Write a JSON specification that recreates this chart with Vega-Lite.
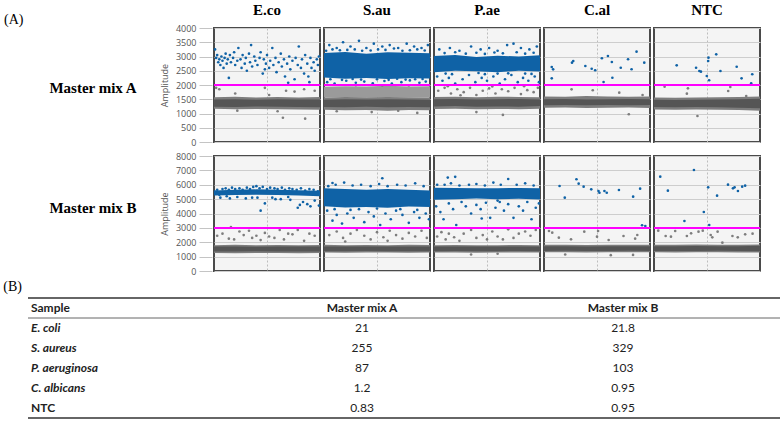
{
  "$schema": "https://vega.github.io/schema/vega-lite/v6.json",
  "background": "white",
  "padding": {"left": 3, "top": 3, "right": 2, "bottom": 4},
  "datasets": {
    "droplets": [
      {"m":"A","s":"E.co","c":"neg","x":0,"y":1170,"y2":1570},{"m":"A","s":"E.co","c":"neg","x":20,"y":1150,"y2":1590},{"m":"A","s":"E.co","c":"neg","x":40,"y":1160,"y2":1560},{"m":"A","s":"E.co","c":"neg","x":60,"y":1150,"y2":1580},{"m":"A","s":"E.co","c":"neg","x":80,"y":1140,"y2":1560},{"m":"A","s":"E.co","c":"neg","x":100,"y":1130,"y2":1575},
      {"m":"A","s":"E.co","c":"core","x":0,"y":1240,"y2":1490},{"m":"A","s":"E.co","c":"core","x":20,"y":1230,"y2":1500},{"m":"A","s":"E.co","c":"core","x":40,"y":1250,"y2":1480},{"m":"A","s":"E.co","c":"core","x":60,"y":1240,"y2":1500},{"m":"A","s":"E.co","c":"core","x":80,"y":1230,"y2":1490},{"m":"A","s":"E.co","c":"core","x":100,"y":1220,"y2":1490},
      {"m":"A","s":"S.au","c":"neg","x":0,"y":1130,"y2":1560},{"m":"A","s":"S.au","c":"neg","x":20,"y":1110,"y2":1580},{"m":"A","s":"S.au","c":"neg","x":40,"y":1120,"y2":1570},{"m":"A","s":"S.au","c":"neg","x":60,"y":1100,"y2":1580},{"m":"A","s":"S.au","c":"neg","x":80,"y":1120,"y2":1570},{"m":"A","s":"S.au","c":"neg","x":100,"y":1110,"y2":1560},
      {"m":"A","s":"S.au","c":"core","x":0,"y":1230,"y2":1480},{"m":"A","s":"S.au","c":"core","x":20,"y":1220,"y2":1500},{"m":"A","s":"S.au","c":"core","x":40,"y":1240,"y2":1490},{"m":"A","s":"S.au","c":"core","x":60,"y":1220,"y2":1500},{"m":"A","s":"S.au","c":"core","x":80,"y":1230,"y2":1490},{"m":"A","s":"S.au","c":"core","x":100,"y":1220,"y2":1480},
      {"m":"A","s":"S.au","c":"rain","x":0,"y":1560,"y2":1940},{"m":"A","s":"S.au","c":"rain","x":20,"y":1580,"y2":1960},{"m":"A","s":"S.au","c":"rain","x":40,"y":1570,"y2":1950},{"m":"A","s":"S.au","c":"rain","x":60,"y":1580,"y2":1970},{"m":"A","s":"S.au","c":"rain","x":80,"y":1570,"y2":1950},{"m":"A","s":"S.au","c":"rain","x":100,"y":1560,"y2":1960},
      {"m":"A","s":"S.au","c":"pos","x":0,"y":2260,"y2":3120},{"m":"A","s":"S.au","c":"pos","x":20,"y":2220,"y2":3160},{"m":"A","s":"S.au","c":"pos","x":40,"y":2250,"y2":3100},{"m":"A","s":"S.au","c":"pos","x":60,"y":2210,"y2":3150},{"m":"A","s":"S.au","c":"pos","x":80,"y":2240,"y2":3130},{"m":"A","s":"S.au","c":"pos","x":100,"y":2230,"y2":3110},
      {"m":"A","s":"P.ae","c":"neg","x":0,"y":1160,"y2":1580},{"m":"A","s":"P.ae","c":"neg","x":20,"y":1170,"y2":1590},{"m":"A","s":"P.ae","c":"neg","x":40,"y":1150,"y2":1570},{"m":"A","s":"P.ae","c":"neg","x":60,"y":1160,"y2":1590},{"m":"A","s":"P.ae","c":"neg","x":80,"y":1150,"y2":1580},{"m":"A","s":"P.ae","c":"neg","x":100,"y":1170,"y2":1570},
      {"m":"A","s":"P.ae","c":"core","x":0,"y":1250,"y2":1500},{"m":"A","s":"P.ae","c":"core","x":20,"y":1260,"y2":1510},{"m":"A","s":"P.ae","c":"core","x":40,"y":1240,"y2":1490},{"m":"A","s":"P.ae","c":"core","x":60,"y":1250,"y2":1500},{"m":"A","s":"P.ae","c":"core","x":80,"y":1240,"y2":1510},{"m":"A","s":"P.ae","c":"core","x":100,"y":1260,"y2":1490},
      {"m":"A","s":"P.ae","c":"pos","x":0,"y":2450,"y2":3020},{"m":"A","s":"P.ae","c":"pos","x":20,"y":2500,"y2":3050},{"m":"A","s":"P.ae","c":"pos","x":40,"y":2480,"y2":2980},{"m":"A","s":"P.ae","c":"pos","x":60,"y":2450,"y2":3030},{"m":"A","s":"P.ae","c":"pos","x":80,"y":2500,"y2":3000},{"m":"A","s":"P.ae","c":"pos","x":100,"y":2470,"y2":3040},
      {"m":"A","s":"C.al","c":"neg","x":0,"y":1200,"y2":1600},{"m":"A","s":"C.al","c":"neg","x":20,"y":1210,"y2":1590},{"m":"A","s":"C.al","c":"neg","x":40,"y":1190,"y2":1610},{"m":"A","s":"C.al","c":"neg","x":60,"y":1200,"y2":1600},{"m":"A","s":"C.al","c":"neg","x":80,"y":1210,"y2":1590},{"m":"A","s":"C.al","c":"neg","x":100,"y":1190,"y2":1600},
      {"m":"A","s":"C.al","c":"core","x":0,"y":1290,"y2":1500},{"m":"A","s":"C.al","c":"core","x":20,"y":1300,"y2":1510},{"m":"A","s":"C.al","c":"core","x":40,"y":1290,"y2":1490},{"m":"A","s":"C.al","c":"core","x":60,"y":1300,"y2":1500},{"m":"A","s":"C.al","c":"core","x":80,"y":1290,"y2":1510},{"m":"A","s":"C.al","c":"core","x":100,"y":1300,"y2":1500},
      {"m":"A","s":"NTC","c":"neg","x":0,"y":1140,"y2":1560},{"m":"A","s":"NTC","c":"neg","x":20,"y":1130,"y2":1550},{"m":"A","s":"NTC","c":"neg","x":40,"y":1140,"y2":1560},{"m":"A","s":"NTC","c":"neg","x":60,"y":1130,"y2":1570},{"m":"A","s":"NTC","c":"neg","x":80,"y":1120,"y2":1580},{"m":"A","s":"NTC","c":"neg","x":100,"y":1100,"y2":1600},
      {"m":"A","s":"NTC","c":"core","x":0,"y":1230,"y2":1480},{"m":"A","s":"NTC","c":"core","x":20,"y":1220,"y2":1470},{"m":"A","s":"NTC","c":"core","x":40,"y":1230,"y2":1480},{"m":"A","s":"NTC","c":"core","x":60,"y":1220,"y2":1490},{"m":"A","s":"NTC","c":"core","x":80,"y":1200,"y2":1500},{"m":"A","s":"NTC","c":"core","x":100,"y":1180,"y2":1520},

      {"m":"B","s":"E.co","c":"neg","x":0,"y":1250,"y2":1800},{"m":"B","s":"E.co","c":"neg","x":20,"y":1240,"y2":1820},{"m":"B","s":"E.co","c":"neg","x":40,"y":1260,"y2":1790},{"m":"B","s":"E.co","c":"neg","x":60,"y":1250,"y2":1810},{"m":"B","s":"E.co","c":"neg","x":80,"y":1240,"y2":1800},{"m":"B","s":"E.co","c":"neg","x":100,"y":1260,"y2":1810},
      {"m":"B","s":"E.co","c":"core","x":0,"y":1360,"y2":1700},{"m":"B","s":"E.co","c":"core","x":20,"y":1350,"y2":1710},{"m":"B","s":"E.co","c":"core","x":40,"y":1370,"y2":1690},{"m":"B","s":"E.co","c":"core","x":60,"y":1360,"y2":1700},{"m":"B","s":"E.co","c":"core","x":80,"y":1350,"y2":1710},{"m":"B","s":"E.co","c":"core","x":100,"y":1360,"y2":1700},
      {"m":"B","s":"E.co","c":"pos","x":0,"y":5250,"y2":5600},{"m":"B","s":"E.co","c":"pos","x":20,"y":5280,"y2":5650},{"m":"B","s":"E.co","c":"pos","x":40,"y":5300,"y2":5680},{"m":"B","s":"E.co","c":"pos","x":60,"y":5280,"y2":5650},{"m":"B","s":"E.co","c":"pos","x":80,"y":5250,"y2":5620},{"m":"B","s":"E.co","c":"pos","x":100,"y":5200,"y2":5580},
      {"m":"B","s":"S.au","c":"neg","x":0,"y":1280,"y2":1820},{"m":"B","s":"S.au","c":"neg","x":20,"y":1270,"y2":1800},{"m":"B","s":"S.au","c":"neg","x":40,"y":1290,"y2":1810},{"m":"B","s":"S.au","c":"neg","x":60,"y":1280,"y2":1800},{"m":"B","s":"S.au","c":"neg","x":80,"y":1270,"y2":1820},{"m":"B","s":"S.au","c":"neg","x":100,"y":1280,"y2":1810},
      {"m":"B","s":"S.au","c":"core","x":0,"y":1380,"y2":1710},{"m":"B","s":"S.au","c":"core","x":20,"y":1370,"y2":1700},{"m":"B","s":"S.au","c":"core","x":40,"y":1390,"y2":1710},{"m":"B","s":"S.au","c":"core","x":60,"y":1380,"y2":1700},{"m":"B","s":"S.au","c":"core","x":80,"y":1370,"y2":1710},{"m":"B","s":"S.au","c":"core","x":100,"y":1380,"y2":1700},
      {"m":"B","s":"S.au","c":"pos","x":0,"y":4500,"y2":5750},{"m":"B","s":"S.au","c":"pos","x":20,"y":4420,"y2":5700},{"m":"B","s":"S.au","c":"pos","x":40,"y":4460,"y2":5660},{"m":"B","s":"S.au","c":"pos","x":60,"y":4400,"y2":5700},{"m":"B","s":"S.au","c":"pos","x":80,"y":4480,"y2":5650},{"m":"B","s":"S.au","c":"pos","x":100,"y":4450,"y2":5600},
      {"m":"B","s":"P.ae","c":"neg","x":0,"y":1280,"y2":1800},{"m":"B","s":"P.ae","c":"neg","x":20,"y":1290,"y2":1810},{"m":"B","s":"P.ae","c":"neg","x":40,"y":1270,"y2":1790},{"m":"B","s":"P.ae","c":"neg","x":60,"y":1280,"y2":1800},{"m":"B","s":"P.ae","c":"neg","x":80,"y":1290,"y2":1810},{"m":"B","s":"P.ae","c":"neg","x":100,"y":1280,"y2":1800},
      {"m":"B","s":"P.ae","c":"core","x":0,"y":1380,"y2":1700},{"m":"B","s":"P.ae","c":"core","x":20,"y":1390,"y2":1710},{"m":"B","s":"P.ae","c":"core","x":40,"y":1370,"y2":1700},{"m":"B","s":"P.ae","c":"core","x":60,"y":1380,"y2":1710},{"m":"B","s":"P.ae","c":"core","x":80,"y":1390,"y2":1700},{"m":"B","s":"P.ae","c":"core","x":100,"y":1380,"y2":1700},
      {"m":"B","s":"P.ae","c":"pos","x":0,"y":4950,"y2":5800},{"m":"B","s":"P.ae","c":"pos","x":20,"y":5000,"y2":5780},{"m":"B","s":"P.ae","c":"pos","x":40,"y":5050,"y2":5750},{"m":"B","s":"P.ae","c":"pos","x":60,"y":5000,"y2":5760},{"m":"B","s":"P.ae","c":"pos","x":80,"y":5020,"y2":5780},{"m":"B","s":"P.ae","c":"pos","x":100,"y":4980,"y2":5750},
      {"m":"B","s":"C.al","c":"neg","x":0,"y":1300,"y2":1820},{"m":"B","s":"C.al","c":"neg","x":20,"y":1310,"y2":1830},{"m":"B","s":"C.al","c":"neg","x":40,"y":1290,"y2":1810},{"m":"B","s":"C.al","c":"neg","x":60,"y":1300,"y2":1820},{"m":"B","s":"C.al","c":"neg","x":80,"y":1310,"y2":1830},{"m":"B","s":"C.al","c":"neg","x":100,"y":1300,"y2":1820},
      {"m":"B","s":"C.al","c":"core","x":0,"y":1400,"y2":1720},{"m":"B","s":"C.al","c":"core","x":20,"y":1410,"y2":1730},{"m":"B","s":"C.al","c":"core","x":40,"y":1390,"y2":1710},{"m":"B","s":"C.al","c":"core","x":60,"y":1400,"y2":1720},{"m":"B","s":"C.al","c":"core","x":80,"y":1410,"y2":1730},{"m":"B","s":"C.al","c":"core","x":100,"y":1400,"y2":1720},
      {"m":"B","s":"NTC","c":"neg","x":0,"y":1300,"y2":1830},{"m":"B","s":"NTC","c":"neg","x":20,"y":1290,"y2":1820},{"m":"B","s":"NTC","c":"neg","x":40,"y":1300,"y2":1840},{"m":"B","s":"NTC","c":"neg","x":60,"y":1310,"y2":1830},{"m":"B","s":"NTC","c":"neg","x":80,"y":1290,"y2":1820},{"m":"B","s":"NTC","c":"neg","x":100,"y":1280,"y2":1850},
      {"m":"B","s":"NTC","c":"core","x":0,"y":1400,"y2":1730},{"m":"B","s":"NTC","c":"core","x":20,"y":1390,"y2":1720},{"m":"B","s":"NTC","c":"core","x":40,"y":1400,"y2":1740},{"m":"B","s":"NTC","c":"core","x":60,"y":1410,"y2":1730},{"m":"B","s":"NTC","c":"core","x":80,"y":1390,"y2":1720},{"m":"B","s":"NTC","c":"core","x":100,"y":1380,"y2":1750},

      {"m":"A","s":"E.co","c":"thr","y":2000},{"m":"A","s":"S.au","c":"thr","y":2000},{"m":"A","s":"P.ae","c":"thr","y":2000},{"m":"A","s":"C.al","c":"thr","y":2000},{"m":"A","s":"NTC","c":"thr","y":2000},
      {"m":"B","s":"E.co","c":"thr","y":3000},{"m":"B","s":"S.au","c":"thr","y":3000},{"m":"B","s":"P.ae","c":"thr","y":3000},{"m":"B","s":"C.al","c":"thr","y":3000},{"m":"B","s":"NTC","c":"thr","y":3000},

      {"m":"A","s":"E.co","c":"pos","x":1,"y":3250},{"m":"A","s":"E.co","c":"pos","x":2,"y":2950},{"m":"A","s":"E.co","c":"pos","x":3,"y":3050},{"m":"A","s":"E.co","c":"pos","x":4,"y":2800},{"m":"A","s":"E.co","c":"pos","x":5,"y":2900},{"m":"A","s":"E.co","c":"pos","x":6,"y":2700},{"m":"A","s":"E.co","c":"pos","x":7,"y":3000},{"m":"A","s":"E.co","c":"pos","x":8,"y":2850},{"m":"A","s":"E.co","c":"pos","x":9,"y":2600},{"m":"A","s":"E.co","c":"pos","x":10,"y":2950},
      {"m":"A","s":"E.co","c":"pos","x":11,"y":3100},{"m":"A","s":"E.co","c":"pos","x":12,"y":2750},{"m":"A","s":"E.co","c":"pos","x":13,"y":2900},{"m":"A","s":"E.co","c":"pos","x":14,"y":2250},{"m":"A","s":"E.co","c":"pos","x":15,"y":3050},{"m":"A","s":"E.co","c":"pos","x":16,"y":2800},{"m":"A","s":"E.co","c":"pos","x":18,"y":2950},{"m":"A","s":"E.co","c":"pos","x":19,"y":3150},{"m":"A","s":"E.co","c":"pos","x":20,"y":2700},{"m":"A","s":"E.co","c":"pos","x":22,"y":2850},
      {"m":"A","s":"E.co","c":"pos","x":23,"y":3300},{"m":"A","s":"E.co","c":"pos","x":25,"y":2900},{"m":"A","s":"E.co","c":"pos","x":26,"y":2600},{"m":"A","s":"E.co","c":"pos","x":27,"y":3050},{"m":"A","s":"E.co","c":"pos","x":29,"y":2750},{"m":"A","s":"E.co","c":"pos","x":30,"y":2950},{"m":"A","s":"E.co","c":"pos","x":31,"y":2500},{"m":"A","s":"E.co","c":"pos","x":33,"y":3100},{"m":"A","s":"E.co","c":"pos","x":34,"y":2800},{"m":"A","s":"E.co","c":"pos","x":35,"y":3400},
      {"m":"A","s":"E.co","c":"pos","x":36,"y":2650},{"m":"A","s":"E.co","c":"pos","x":38,"y":3000},{"m":"A","s":"E.co","c":"pos","x":39,"y":2850},{"m":"A","s":"E.co","c":"pos","x":41,"y":2700},{"m":"A","s":"E.co","c":"pos","x":43,"y":2950},{"m":"A","s":"E.co","c":"pos","x":44,"y":3150},{"m":"A","s":"E.co","c":"pos","x":46,"y":2400},{"m":"A","s":"E.co","c":"pos","x":47,"y":2900},{"m":"A","s":"E.co","c":"pos","x":48,"y":2550},{"m":"A","s":"E.co","c":"pos","x":49,"y":2750},
      {"m":"A","s":"E.co","c":"pos","x":50,"y":3050},{"m":"A","s":"E.co","c":"pos","x":52,"y":2600},{"m":"A","s":"E.co","c":"pos","x":53,"y":2850},{"m":"A","s":"E.co","c":"pos","x":55,"y":3300},{"m":"A","s":"E.co","c":"pos","x":56,"y":2700},{"m":"A","s":"E.co","c":"pos","x":58,"y":2950},{"m":"A","s":"E.co","c":"pos","x":59,"y":2450},{"m":"A","s":"E.co","c":"pos","x":61,"y":2800},{"m":"A","s":"E.co","c":"pos","x":63,"y":3100},{"m":"A","s":"E.co","c":"pos","x":64,"y":2650},
      {"m":"A","s":"E.co","c":"pos","x":66,"y":2900},{"m":"A","s":"E.co","c":"pos","x":67,"y":2300},{"m":"A","s":"E.co","c":"pos","x":69,"y":2750},{"m":"A","s":"E.co","c":"pos","x":70,"y":2080},{"m":"A","s":"E.co","c":"pos","x":71,"y":3000},{"m":"A","s":"E.co","c":"pos","x":72,"y":2550},{"m":"A","s":"E.co","c":"pos","x":74,"y":2850},{"m":"A","s":"E.co","c":"pos","x":76,"y":2200},{"m":"A","s":"E.co","c":"pos","x":77,"y":2950},{"m":"A","s":"E.co","c":"pos","x":79,"y":2700},
      {"m":"A","s":"E.co","c":"pos","x":80,"y":3350},{"m":"A","s":"E.co","c":"pos","x":82,"y":2600},{"m":"A","s":"E.co","c":"pos","x":83,"y":2900},{"m":"A","s":"E.co","c":"pos","x":85,"y":2400},{"m":"A","s":"E.co","c":"pos","x":86,"y":3050},{"m":"A","s":"E.co","c":"pos","x":88,"y":2750},{"m":"A","s":"E.co","c":"pos","x":89,"y":2300},{"m":"A","s":"E.co","c":"pos","x":90,"y":2100},{"m":"A","s":"E.co","c":"pos","x":91,"y":2950},{"m":"A","s":"E.co","c":"pos","x":92,"y":2600},
      {"m":"A","s":"E.co","c":"pos","x":94,"y":2800},{"m":"A","s":"E.co","c":"pos","x":95,"y":2500},{"m":"A","s":"E.co","c":"pos","x":97,"y":2900},{"m":"A","s":"E.co","c":"pos","x":98,"y":2700},{"m":"A","s":"E.co","c":"pos","x":99,"y":3000},
      {"m":"A","s":"E.co","c":"neg","x":2,"y":1900},{"m":"A","s":"E.co","c":"neg","x":5,"y":1850},{"m":"A","s":"E.co","c":"neg","x":20,"y":1700},{"m":"A","s":"E.co","c":"neg","x":48,"y":1900},{"m":"A","s":"E.co","c":"neg","x":52,"y":1650},{"m":"A","s":"E.co","c":"neg","x":68,"y":1800},{"m":"A","s":"E.co","c":"neg","x":76,"y":1770},{"m":"A","s":"E.co","c":"neg","x":85,"y":1850},{"m":"A","s":"E.co","c":"neg","x":95,"y":1800},{"m":"A","s":"E.co","c":"neg","x":65,"y":850},{"m":"A","s":"E.co","c":"neg","x":86,"y":820},{"m":"A","s":"E.co","c":"neg","x":22,"y":1100},{"m":"A","s":"E.co","c":"neg","x":60,"y":1080},

      {"m":"A","s":"S.au","c":"pos","x":5,"y":3400},{"m":"A","s":"S.au","c":"pos","x":8,"y":3250},{"m":"A","s":"S.au","c":"pos","x":12,"y":3300},{"m":"A","s":"S.au","c":"pos","x":18,"y":3500},{"m":"A","s":"S.au","c":"pos","x":25,"y":3350},{"m":"A","s":"S.au","c":"pos","x":29,"y":3250},{"m":"A","s":"S.au","c":"pos","x":33,"y":3550},{"m":"A","s":"S.au","c":"pos","x":40,"y":3300},{"m":"A","s":"S.au","c":"pos","x":47,"y":3450},{"m":"A","s":"S.au","c":"pos","x":51,"y":3250},
      {"m":"A","s":"S.au","c":"pos","x":55,"y":3350},{"m":"A","s":"S.au","c":"pos","x":62,"y":3400},{"m":"A","s":"S.au","c":"pos","x":66,"y":3280},{"m":"A","s":"S.au","c":"pos","x":70,"y":3300},{"m":"A","s":"S.au","c":"pos","x":78,"y":3450},{"m":"A","s":"S.au","c":"pos","x":85,"y":3350},{"m":"A","s":"S.au","c":"pos","x":88,"y":3250},{"m":"A","s":"S.au","c":"pos","x":92,"y":3300},{"m":"A","s":"S.au","c":"pos","x":98,"y":3400},{"m":"A","s":"S.au","c":"pos","x":2,"y":3200},
      {"m":"A","s":"S.au","c":"pos","x":15,"y":3220},{"m":"A","s":"S.au","c":"pos","x":22,"y":3230},{"m":"A","s":"S.au","c":"pos","x":36,"y":3200},{"m":"A","s":"S.au","c":"pos","x":44,"y":3210},{"m":"A","s":"S.au","c":"pos","x":58,"y":3230},{"m":"A","s":"S.au","c":"pos","x":74,"y":3200},{"m":"A","s":"S.au","c":"pos","x":81,"y":3220},{"m":"A","s":"S.au","c":"pos","x":95,"y":3210},
      {"m":"A","s":"S.au","c":"pos","x":3,"y":2100},{"m":"A","s":"S.au","c":"pos","x":10,"y":2050},{"m":"A","s":"S.au","c":"pos","x":21,"y":2150},{"m":"A","s":"S.au","c":"pos","x":30,"y":2080},{"m":"A","s":"S.au","c":"pos","x":38,"y":2120},{"m":"A","s":"S.au","c":"pos","x":46,"y":2060},{"m":"A","s":"S.au","c":"pos","x":57,"y":2140},{"m":"A","s":"S.au","c":"pos","x":64,"y":2050},{"m":"A","s":"S.au","c":"pos","x":73,"y":2100},{"m":"A","s":"S.au","c":"pos","x":81,"y":2160},
      {"m":"A","s":"S.au","c":"pos","x":90,"y":2080},{"m":"A","s":"S.au","c":"pos","x":96,"y":2120},{"m":"A","s":"S.au","c":"pos","x":6,"y":2200},{"m":"A","s":"S.au","c":"pos","x":17,"y":2180},{"m":"A","s":"S.au","c":"pos","x":27,"y":2210},{"m":"A","s":"S.au","c":"pos","x":35,"y":2190},{"m":"A","s":"S.au","c":"pos","x":50,"y":2200},{"m":"A","s":"S.au","c":"pos","x":61,"y":2180},{"m":"A","s":"S.au","c":"pos","x":69,"y":2220},{"m":"A","s":"S.au","c":"pos","x":77,"y":2190},
      {"m":"A","s":"S.au","c":"pos","x":86,"y":2200},{"m":"A","s":"S.au","c":"pos","x":93,"y":2210},
      {"m":"A","s":"S.au","c":"neg","x":12,"y":1080},{"m":"A","s":"S.au","c":"neg","x":45,"y":1050},{"m":"A","s":"S.au","c":"neg","x":70,"y":1100},{"m":"A","s":"S.au","c":"neg","x":88,"y":1020},{"m":"A","s":"S.au","c":"neg","x":30,"y":1990},{"m":"A","s":"S.au","c":"neg","x":55,"y":1985},{"m":"A","s":"S.au","c":"neg","x":80,"y":1985},

      {"m":"A","s":"P.ae","c":"pos","x":5,"y":3250},{"m":"A","s":"P.ae","c":"pos","x":15,"y":3300},{"m":"A","s":"P.ae","c":"pos","x":24,"y":3200},{"m":"A","s":"P.ae","c":"pos","x":35,"y":3350},{"m":"A","s":"P.ae","c":"pos","x":44,"y":3250},{"m":"A","s":"P.ae","c":"pos","x":52,"y":3300},{"m":"A","s":"P.ae","c":"pos","x":60,"y":3200},{"m":"A","s":"P.ae","c":"pos","x":69,"y":3400},{"m":"A","s":"P.ae","c":"pos","x":75,"y":3450},{"m":"A","s":"P.ae","c":"pos","x":82,"y":3300},
      {"m":"A","s":"P.ae","c":"pos","x":90,"y":3250},{"m":"A","s":"P.ae","c":"pos","x":97,"y":3350},{"m":"A","s":"P.ae","c":"pos","x":10,"y":3120},{"m":"A","s":"P.ae","c":"pos","x":20,"y":3150},{"m":"A","s":"P.ae","c":"pos","x":30,"y":3100},{"m":"A","s":"P.ae","c":"pos","x":40,"y":3130},{"m":"A","s":"P.ae","c":"pos","x":48,"y":3090},{"m":"A","s":"P.ae","c":"pos","x":57,"y":3140},{"m":"A","s":"P.ae","c":"pos","x":65,"y":3110},{"m":"A","s":"P.ae","c":"pos","x":78,"y":3150},
      {"m":"A","s":"P.ae","c":"pos","x":86,"y":3100},{"m":"A","s":"P.ae","c":"pos","x":94,"y":3130},
      {"m":"A","s":"P.ae","c":"pos","x":3,"y":2300},{"m":"A","s":"P.ae","c":"pos","x":8,"y":2150},{"m":"A","s":"P.ae","c":"pos","x":11,"y":2400},{"m":"A","s":"P.ae","c":"pos","x":14,"y":2250},{"m":"A","s":"P.ae","c":"pos","x":20,"y":2050},{"m":"A","s":"P.ae","c":"pos","x":27,"y":2200},{"m":"A","s":"P.ae","c":"pos","x":33,"y":2350},{"m":"A","s":"P.ae","c":"pos","x":39,"y":2100},{"m":"A","s":"P.ae","c":"pos","x":45,"y":2250},{"m":"A","s":"P.ae","c":"pos","x":48,"y":2380},
      {"m":"A","s":"P.ae","c":"pos","x":50,"y":2150},{"m":"A","s":"P.ae","c":"pos","x":56,"y":2300},{"m":"A","s":"P.ae","c":"pos","x":62,"y":2050},{"m":"A","s":"P.ae","c":"pos","x":67,"y":2200},{"m":"A","s":"P.ae","c":"pos","x":73,"y":2350},{"m":"A","s":"P.ae","c":"pos","x":79,"y":2100},{"m":"A","s":"P.ae","c":"pos","x":84,"y":2250},{"m":"A","s":"P.ae","c":"pos","x":86,"y":2400},{"m":"A","s":"P.ae","c":"pos","x":89,"y":2150},{"m":"A","s":"P.ae","c":"pos","x":95,"y":2300},
      {"m":"A","s":"P.ae","c":"pos","x":99,"y":2100},{"m":"A","s":"P.ae","c":"pos","x":17,"y":2380},{"m":"A","s":"P.ae","c":"pos","x":42,"y":2420},{"m":"A","s":"P.ae","c":"pos","x":60,"y":2400},{"m":"A","s":"P.ae","c":"pos","x":70,"y":2410},{"m":"A","s":"P.ae","c":"pos","x":92,"y":2390},
      {"m":"A","s":"P.ae","c":"neg","x":4,"y":1800},{"m":"A","s":"P.ae","c":"neg","x":10,"y":1900},{"m":"A","s":"P.ae","c":"neg","x":16,"y":1700},{"m":"A","s":"P.ae","c":"neg","x":22,"y":1850},{"m":"A","s":"P.ae","c":"neg","x":28,"y":1750},{"m":"A","s":"P.ae","c":"neg","x":34,"y":1900},{"m":"A","s":"P.ae","c":"neg","x":40,"y":1650},{"m":"A","s":"P.ae","c":"neg","x":46,"y":1800},{"m":"A","s":"P.ae","c":"neg","x":52,"y":1880},{"m":"A","s":"P.ae","c":"neg","x":58,"y":1700},
      {"m":"A","s":"P.ae","c":"neg","x":64,"y":1850},{"m":"A","s":"P.ae","c":"neg","x":70,"y":1780},{"m":"A","s":"P.ae","c":"neg","x":76,"y":1900},{"m":"A","s":"P.ae","c":"neg","x":82,"y":1680},{"m":"A","s":"P.ae","c":"neg","x":88,"y":1820},{"m":"A","s":"P.ae","c":"neg","x":94,"y":1750},{"m":"A","s":"P.ae","c":"neg","x":98,"y":1900},{"m":"A","s":"P.ae","c":"neg","x":65,"y":950},{"m":"A","s":"P.ae","c":"neg","x":40,"y":1050},{"m":"A","s":"P.ae","c":"neg","x":13,"y":1960},
      {"m":"A","s":"P.ae","c":"neg","x":25,"y":1640},{"m":"A","s":"P.ae","c":"neg","x":55,"y":1950},{"m":"A","s":"P.ae","c":"neg","x":85,"y":1960},

      {"m":"A","s":"C.al","c":"pos","x":7.3,"y":2632},{"m":"A","s":"C.al","c":"pos","x":8.6,"y":2550},{"m":"A","s":"C.al","c":"pos","x":7.3,"y":2235},{"m":"A","s":"C.al","c":"pos","x":27.6,"y":2842},{"m":"A","s":"C.al","c":"pos","x":26.4,"y":2783},{"m":"A","s":"C.al","c":"pos","x":39,"y":2667},{"m":"A","s":"C.al","c":"pos","x":45,"y":2572},{"m":"A","s":"C.al","c":"pos","x":48.3,"y":2516},{"m":"A","s":"C.al","c":"pos","x":54.6,"y":2937},{"m":"A","s":"C.al","c":"pos","x":60.3,"y":3018},
      {"m":"A","s":"C.al","c":"pos","x":64,"y":2807},{"m":"A","s":"C.al","c":"pos","x":64.5,"y":2256},{"m":"A","s":"C.al","c":"pos","x":56.2,"y":2105},{"m":"A","s":"C.al","c":"pos","x":72.4,"y":2607},{"m":"A","s":"C.al","c":"pos","x":79.3,"y":2902},{"m":"A","s":"C.al","c":"pos","x":82.6,"y":2551},{"m":"A","s":"C.al","c":"pos","x":87.3,"y":3169},{"m":"A","s":"C.al","c":"pos","x":94.6,"y":2783},
      {"m":"A","s":"C.al","c":"neg","x":26,"y":1848},{"m":"A","s":"C.al","c":"neg","x":46,"y":1814},{"m":"A","s":"C.al","c":"neg","x":71,"y":1730},{"m":"A","s":"C.al","c":"neg","x":80,"y":972},{"m":"A","s":"C.al","c":"neg","x":93,"y":1649},

      {"m":"A","s":"NTC","c":"pos","x":21.4,"y":2691},{"m":"A","s":"NTC","c":"pos","x":39.7,"y":2607},{"m":"A","s":"NTC","c":"pos","x":42.8,"y":2491},{"m":"A","s":"NTC","c":"pos","x":44.3,"y":2467},{"m":"A","s":"NTC","c":"pos","x":51.4,"y":2958},{"m":"A","s":"NTC","c":"pos","x":51.1,"y":2842},{"m":"A","s":"NTC","c":"pos","x":58.7,"y":3077},{"m":"A","s":"NTC","c":"pos","x":49.8,"y":2316},{"m":"A","s":"NTC","c":"pos","x":52,"y":2165},{"m":"A","s":"NTC","c":"pos","x":62.7,"y":2491},
      {"m":"A","s":"NTC","c":"pos","x":78,"y":2642},{"m":"A","s":"NTC","c":"pos","x":82.6,"y":2235},{"m":"A","s":"NTC","c":"pos","x":92.7,"y":2376},{"m":"A","s":"NTC","c":"pos","x":91.7,"y":2060},
      {"m":"A","s":"NTC","c":"neg","x":10,"y":1940},{"m":"A","s":"NTC","c":"neg","x":32,"y":1883},{"m":"A","s":"NTC","c":"neg","x":31,"y":1695},{"m":"A","s":"NTC","c":"neg","x":72,"y":1930},{"m":"A","s":"NTC","c":"neg","x":70,"y":1790},{"m":"A","s":"NTC","c":"neg","x":87,"y":1614},{"m":"A","s":"NTC","c":"neg","x":41,"y":912},

      {"m":"B","s":"E.co","c":"pos","x":1,"y":5500},{"m":"B","s":"E.co","c":"pos","x":3,"y":5650},{"m":"B","s":"E.co","c":"pos","x":5,"y":5300},{"m":"B","s":"E.co","c":"pos","x":8,"y":5700},{"m":"B","s":"E.co","c":"pos","x":11,"y":5750},{"m":"B","s":"E.co","c":"pos","x":14,"y":5650},{"m":"B","s":"E.co","c":"pos","x":17,"y":5800},{"m":"B","s":"E.co","c":"pos","x":20,"y":5700},{"m":"B","s":"E.co","c":"pos","x":24,"y":5750},{"m":"B","s":"E.co","c":"pos","x":27,"y":5650},
      {"m":"B","s":"E.co","c":"pos","x":31,"y":5800},{"m":"B","s":"E.co","c":"pos","x":34,"y":5700},{"m":"B","s":"E.co","c":"pos","x":37,"y":5850},{"m":"B","s":"E.co","c":"pos","x":40,"y":5900},{"m":"B","s":"E.co","c":"pos","x":43,"y":5750},{"m":"B","s":"E.co","c":"pos","x":46,"y":5850},{"m":"B","s":"E.co","c":"pos","x":50,"y":5700},{"m":"B","s":"E.co","c":"pos","x":53,"y":5800},{"m":"B","s":"E.co","c":"pos","x":57,"y":5750},{"m":"B","s":"E.co","c":"pos","x":60,"y":5700},
      {"m":"B","s":"E.co","c":"pos","x":64,"y":5800},{"m":"B","s":"E.co","c":"pos","x":67,"y":5650},{"m":"B","s":"E.co","c":"pos","x":71,"y":5750},{"m":"B","s":"E.co","c":"pos","x":74,"y":5700},{"m":"B","s":"E.co","c":"pos","x":78,"y":5650},{"m":"B","s":"E.co","c":"pos","x":82,"y":5750},{"m":"B","s":"E.co","c":"pos","x":86,"y":5600},{"m":"B","s":"E.co","c":"pos","x":90,"y":5700},{"m":"B","s":"E.co","c":"pos","x":94,"y":5650},{"m":"B","s":"E.co","c":"pos","x":98,"y":5550},
      {"m":"B","s":"E.co","c":"pos","x":6,"y":5100},{"m":"B","s":"E.co","c":"pos","x":15,"y":5050},{"m":"B","s":"E.co","c":"pos","x":22,"y":5150},{"m":"B","s":"E.co","c":"pos","x":30,"y":5050},{"m":"B","s":"E.co","c":"pos","x":36,"y":5100},{"m":"B","s":"E.co","c":"pos","x":44,"y":4200},{"m":"B","s":"E.co","c":"pos","x":48,"y":4700},{"m":"B","s":"E.co","c":"pos","x":55,"y":5100},{"m":"B","s":"E.co","c":"pos","x":63,"y":5000},{"m":"B","s":"E.co","c":"pos","x":70,"y":5150},
      {"m":"B","s":"E.co","c":"pos","x":72,"y":4950},{"m":"B","s":"E.co","c":"pos","x":79,"y":4400},{"m":"B","s":"E.co","c":"pos","x":81,"y":4600},{"m":"B","s":"E.co","c":"pos","x":84,"y":4800},{"m":"B","s":"E.co","c":"pos","x":88,"y":4650},{"m":"B","s":"E.co","c":"pos","x":91,"y":4500},{"m":"B","s":"E.co","c":"pos","x":95,"y":4900},{"m":"B","s":"E.co","c":"pos","x":99,"y":4550},{"m":"B","s":"E.co","c":"pos","x":12,"y":5200},{"m":"B","s":"E.co","c":"pos","x":41,"y":5100},
      {"m":"B","s":"E.co","c":"pos","x":58,"y":5000},
      {"m":"B","s":"E.co","c":"neg","x":3,"y":2450},{"m":"B","s":"E.co","c":"neg","x":8,"y":2600},{"m":"B","s":"E.co","c":"neg","x":14,"y":2250},{"m":"B","s":"E.co","c":"neg","x":16,"y":3050},{"m":"B","s":"E.co","c":"neg","x":19,"y":2200},{"m":"B","s":"E.co","c":"neg","x":24,"y":2750},{"m":"B","s":"E.co","c":"neg","x":28,"y":2500},{"m":"B","s":"E.co","c":"neg","x":33,"y":2800},{"m":"B","s":"E.co","c":"neg","x":36,"y":2300},{"m":"B","s":"E.co","c":"neg","x":40,"y":2450},
      {"m":"B","s":"E.co","c":"neg","x":44,"y":2150},{"m":"B","s":"E.co","c":"neg","x":48,"y":2650},{"m":"B","s":"E.co","c":"neg","x":52,"y":2400},{"m":"B","s":"E.co","c":"neg","x":57,"y":2300},{"m":"B","s":"E.co","c":"neg","x":62,"y":2850},{"m":"B","s":"E.co","c":"neg","x":66,"y":2200},{"m":"B","s":"E.co","c":"neg","x":70,"y":2600},{"m":"B","s":"E.co","c":"neg","x":74,"y":2550},{"m":"B","s":"E.co","c":"neg","x":79,"y":2850},{"m":"B","s":"E.co","c":"neg","x":85,"y":2100},
      {"m":"B","s":"E.co","c":"neg","x":90,"y":2600},{"m":"B","s":"E.co","c":"neg","x":95,"y":2450},

      {"m":"B","s":"S.au","c":"pos","x":4,"y":5900},{"m":"B","s":"S.au","c":"pos","x":8,"y":6120},{"m":"B","s":"S.au","c":"pos","x":11,"y":6000},{"m":"B","s":"S.au","c":"pos","x":19,"y":6150},{"m":"B","s":"S.au","c":"pos","x":27,"y":5950},{"m":"B","s":"S.au","c":"pos","x":35,"y":6000},{"m":"B","s":"S.au","c":"pos","x":44,"y":5900},{"m":"B","s":"S.au","c":"pos","x":52,"y":6050},{"m":"B","s":"S.au","c":"pos","x":55,"y":6450},{"m":"B","s":"S.au","c":"pos","x":60,"y":5900},
      {"m":"B","s":"S.au","c":"pos","x":69,"y":6000},{"m":"B","s":"S.au","c":"pos","x":77,"y":5950},{"m":"B","s":"S.au","c":"pos","x":86,"y":6100},{"m":"B","s":"S.au","c":"pos","x":94,"y":5900},
      {"m":"B","s":"S.au","c":"pos","x":3,"y":4200},{"m":"B","s":"S.au","c":"pos","x":8,"y":3500},{"m":"B","s":"S.au","c":"pos","x":10,"y":4300},{"m":"B","s":"S.au","c":"pos","x":12,"y":3900},{"m":"B","s":"S.au","c":"pos","x":17,"y":3300},{"m":"B","s":"S.au","c":"pos","x":22,"y":4000},{"m":"B","s":"S.au","c":"pos","x":25,"y":4250},{"m":"B","s":"S.au","c":"pos","x":28,"y":3700},{"m":"B","s":"S.au","c":"pos","x":33,"y":4300},{"m":"B","s":"S.au","c":"pos","x":38,"y":3400},
      {"m":"B","s":"S.au","c":"pos","x":42,"y":4100},{"m":"B","s":"S.au","c":"pos","x":47,"y":3800},{"m":"B","s":"S.au","c":"pos","x":50,"y":4350},{"m":"B","s":"S.au","c":"pos","x":53,"y":3200},{"m":"B","s":"S.au","c":"pos","x":58,"y":4000},{"m":"B","s":"S.au","c":"pos","x":63,"y":3600},{"m":"B","s":"S.au","c":"pos","x":68,"y":4200},{"m":"B","s":"S.au","c":"pos","x":72,"y":4300},{"m":"B","s":"S.au","c":"pos","x":74,"y":3900},{"m":"B","s":"S.au","c":"pos","x":80,"y":3350},
      {"m":"B","s":"S.au","c":"pos","x":85,"y":4100},{"m":"B","s":"S.au","c":"pos","x":88,"y":4250},{"m":"B","s":"S.au","c":"pos","x":90,"y":3700},{"m":"B","s":"S.au","c":"pos","x":96,"y":4000},{"m":"B","s":"S.au","c":"pos","x":99,"y":3600},
      {"m":"B","s":"S.au","c":"neg","x":5,"y":2500},{"m":"B","s":"S.au","c":"neg","x":12,"y":2750},{"m":"B","s":"S.au","c":"neg","x":18,"y":2300},{"m":"B","s":"S.au","c":"neg","x":20,"y":2050},{"m":"B","s":"S.au","c":"neg","x":25,"y":2600},{"m":"B","s":"S.au","c":"neg","x":31,"y":2850},{"m":"B","s":"S.au","c":"neg","x":38,"y":2450},{"m":"B","s":"S.au","c":"neg","x":44,"y":2200},{"m":"B","s":"S.au","c":"neg","x":50,"y":2700},{"m":"B","s":"S.au","c":"neg","x":56,"y":2350},
      {"m":"B","s":"S.au","c":"neg","x":60,"y":2100},{"m":"B","s":"S.au","c":"neg","x":62,"y":2800},{"m":"B","s":"S.au","c":"neg","x":68,"y":2500},{"m":"B","s":"S.au","c":"neg","x":74,"y":2250},{"m":"B","s":"S.au","c":"neg","x":80,"y":2650},{"m":"B","s":"S.au","c":"neg","x":86,"y":2400},{"m":"B","s":"S.au","c":"neg","x":92,"y":2800},{"m":"B","s":"S.au","c":"neg","x":97,"y":2300},

      {"m":"B","s":"P.ae","c":"pos","x":3,"y":6000},{"m":"B","s":"P.ae","c":"pos","x":10,"y":6000},{"m":"B","s":"P.ae","c":"pos","x":13,"y":6500},{"m":"B","s":"P.ae","c":"pos","x":16,"y":6100},{"m":"B","s":"P.ae","c":"pos","x":20,"y":6550},{"m":"B","s":"P.ae","c":"pos","x":24,"y":5950},{"m":"B","s":"P.ae","c":"pos","x":33,"y":6000},{"m":"B","s":"P.ae","c":"pos","x":40,"y":6050},{"m":"B","s":"P.ae","c":"pos","x":48,"y":5950},{"m":"B","s":"P.ae","c":"pos","x":56,"y":6150},
      {"m":"B","s":"P.ae","c":"pos","x":63,"y":6000},{"m":"B","s":"P.ae","c":"pos","x":70,"y":6400},{"m":"B","s":"P.ae","c":"pos","x":78,"y":6000},{"m":"B","s":"P.ae","c":"pos","x":86,"y":6100},{"m":"B","s":"P.ae","c":"pos","x":94,"y":5950},
      {"m":"B","s":"P.ae","c":"pos","x":2,"y":4500},{"m":"B","s":"P.ae","c":"pos","x":6,"y":4100},{"m":"B","s":"P.ae","c":"pos","x":9,"y":3600},{"m":"B","s":"P.ae","c":"pos","x":14,"y":4700},{"m":"B","s":"P.ae","c":"pos","x":18,"y":4300},{"m":"B","s":"P.ae","c":"pos","x":21,"y":3200},{"m":"B","s":"P.ae","c":"pos","x":26,"y":4800},{"m":"B","s":"P.ae","c":"pos","x":30,"y":4500},{"m":"B","s":"P.ae","c":"pos","x":35,"y":4000},{"m":"B","s":"P.ae","c":"pos","x":40,"y":4600},
      {"m":"B","s":"P.ae","c":"pos","x":44,"y":4300},{"m":"B","s":"P.ae","c":"pos","x":45,"y":3650},{"m":"B","s":"P.ae","c":"pos","x":49,"y":4750},{"m":"B","s":"P.ae","c":"pos","x":53,"y":3700},{"m":"B","s":"P.ae","c":"pos","x":58,"y":4400},{"m":"B","s":"P.ae","c":"pos","x":60,"y":4900},{"m":"B","s":"P.ae","c":"pos","x":62,"y":4800},{"m":"B","s":"P.ae","c":"pos","x":66,"y":4200},{"m":"B","s":"P.ae","c":"pos","x":70,"y":4650},{"m":"B","s":"P.ae","c":"pos","x":75,"y":3700},
      {"m":"B","s":"P.ae","c":"pos","x":80,"y":4500},{"m":"B","s":"P.ae","c":"pos","x":84,"y":4200},{"m":"B","s":"P.ae","c":"pos","x":88,"y":4800},{"m":"B","s":"P.ae","c":"pos","x":92,"y":3600},{"m":"B","s":"P.ae","c":"pos","x":96,"y":4400},{"m":"B","s":"P.ae","c":"pos","x":99,"y":4700},
      {"m":"B","s":"P.ae","c":"neg","x":3,"y":2400},{"m":"B","s":"P.ae","c":"neg","x":7,"y":2700},{"m":"B","s":"P.ae","c":"neg","x":11,"y":2200},{"m":"B","s":"P.ae","c":"neg","x":14,"y":2600},{"m":"B","s":"P.ae","c":"neg","x":19,"y":2350},{"m":"B","s":"P.ae","c":"neg","x":24,"y":2100},{"m":"B","s":"P.ae","c":"neg","x":28,"y":2600},{"m":"B","s":"P.ae","c":"neg","x":35,"y":2850},{"m":"B","s":"P.ae","c":"neg","x":40,"y":2300},{"m":"B","s":"P.ae","c":"neg","x":46,"y":2500},
      {"m":"B","s":"P.ae","c":"neg","x":50,"y":2200},{"m":"B","s":"P.ae","c":"neg","x":55,"y":2750},{"m":"B","s":"P.ae","c":"neg","x":60,"y":2400},{"m":"B","s":"P.ae","c":"neg","x":65,"y":2200},{"m":"B","s":"P.ae","c":"neg","x":70,"y":2900},{"m":"B","s":"P.ae","c":"neg","x":75,"y":2300},{"m":"B","s":"P.ae","c":"neg","x":80,"y":2600},{"m":"B","s":"P.ae","c":"neg","x":86,"y":2750},{"m":"B","s":"P.ae","c":"neg","x":91,"y":2450},{"m":"B","s":"P.ae","c":"neg","x":96,"y":2850},
      {"m":"B","s":"P.ae","c":"neg","x":35,"y":1150},{"m":"B","s":"P.ae","c":"neg","x":60,"y":1200},

      {"m":"B","s":"C.al","c":"pos","x":14.7,"y":5913},{"m":"B","s":"C.al","c":"pos","x":19.6,"y":5100},{"m":"B","s":"C.al","c":"pos","x":30.6,"y":6380},{"m":"B","s":"C.al","c":"pos","x":32.7,"y":6078},{"m":"B","s":"C.al","c":"pos","x":37.4,"y":5865},{"m":"B","s":"C.al","c":"pos","x":44.6,"y":5680},{"m":"B","s":"C.al","c":"pos","x":51.4,"y":5566},{"m":"B","s":"C.al","c":"pos","x":52.3,"y":5447},{"m":"B","s":"C.al","c":"pos","x":57,"y":5566},{"m":"B","s":"C.al","c":"pos","x":59.2,"y":5447},
      {"m":"B","s":"C.al","c":"pos","x":70.7,"y":5635},{"m":"B","s":"C.al","c":"pos","x":84.1,"y":5170},{"m":"B","s":"C.al","c":"pos","x":90.7,"y":5726},{"m":"B","s":"C.al","c":"pos","x":92.5,"y":3179},{"m":"B","s":"C.al","c":"pos","x":95.6,"y":3131},
      {"m":"B","s":"C.al","c":"neg","x":4.7,"y":2783},{"m":"B","s":"C.al","c":"neg","x":7.8,"y":2667},{"m":"B","s":"C.al","c":"neg","x":14,"y":2319},{"m":"B","s":"C.al","c":"neg","x":25.5,"y":2203},{"m":"B","s":"C.al","c":"neg","x":38,"y":2736},{"m":"B","s":"C.al","c":"neg","x":50,"y":2389},{"m":"B","s":"C.al","c":"neg","x":51,"y":2783},{"m":"B","s":"C.al","c":"neg","x":61,"y":2157},{"m":"B","s":"C.al","c":"neg","x":75,"y":2435},{"m":"B","s":"C.al","c":"neg","x":86,"y":2250},
      {"m":"B","s":"C.al","c":"neg","x":88,"y":2505},{"m":"B","s":"C.al","c":"neg","x":20,"y":1150},{"m":"B","s":"C.al","c":"neg","x":63,"y":1100},{"m":"B","s":"C.al","c":"neg","x":84,"y":1120},

      {"m":"B","s":"NTC","c":"pos","x":5.9,"y":6563},{"m":"B","s":"NTC","c":"pos","x":13.1,"y":5588},{"m":"B","s":"NTC","c":"pos","x":37.7,"y":7026},{"m":"B","s":"NTC","c":"pos","x":51.1,"y":5821},{"m":"B","s":"NTC","c":"pos","x":59.5,"y":5241},{"m":"B","s":"NTC","c":"pos","x":69.8,"y":6007},{"m":"B","s":"NTC","c":"pos","x":74.5,"y":5751},{"m":"B","s":"NTC","c":"pos","x":76,"y":5821},{"m":"B","s":"NTC","c":"pos","x":79.2,"y":5566},{"m":"B","s":"NTC","c":"pos","x":83.2,"y":5867},
      {"m":"B","s":"NTC","c":"pos","x":86,"y":5936},{"m":"B","s":"NTC","c":"pos","x":47,"y":4105},{"m":"B","s":"NTC","c":"pos","x":28.7,"y":3479},{"m":"B","s":"NTC","c":"pos","x":52.1,"y":3200},
      {"m":"B","s":"NTC","c":"neg","x":4,"y":2806},{"m":"B","s":"NTC","c":"neg","x":11,"y":2435},{"m":"B","s":"NTC","c":"neg","x":16,"y":2389},{"m":"B","s":"NTC","c":"neg","x":20,"y":2783},{"m":"B","s":"NTC","c":"neg","x":31,"y":2435},{"m":"B","s":"NTC","c":"neg","x":35,"y":2621},{"m":"B","s":"NTC","c":"neg","x":42,"y":2736},{"m":"B","s":"NTC","c":"neg","x":46,"y":2806},{"m":"B","s":"NTC","c":"neg","x":53.5,"y":2505},{"m":"B","s":"NTC","c":"neg","x":55,"y":2342},
      {"m":"B","s":"NTC","c":"neg","x":60,"y":2736},{"m":"B","s":"NTC","c":"neg","x":64.5,"y":1971},{"m":"B","s":"NTC","c":"neg","x":74,"y":2435},{"m":"B","s":"NTC","c":"neg","x":79,"y":2342},{"m":"B","s":"NTC","c":"neg","x":86,"y":2551},{"m":"B","s":"NTC","c":"neg","x":93,"y":2600}
    ],
    "mixes": [{"mix": "Master mix A"}, {"mix": "Master mix  B"}],
    "counts": [
      {"sample": "E. coli", "Master mix A": 21, "Master mix B": 21.8},
      {"sample": "S. aureus", "Master mix A": 255, "Master mix B": 329},
      {"sample": "P. aeruginosa", "Master mix A": 87, "Master mix B": 103},
      {"sample": "C. albicans", "Master mix A": 1.2, "Master mix B": 0.95},
      {"sample": "NTC", "Master mix A": 0.83, "Master mix B": 0.95}
    ],
    "columns": [{"col": "Sample"}, {"col": "Master mix A"}, {"col": "Master mix B"}]
  },
  "vconcat": [
    {
      "hconcat": [
        {
          "data": {"name": "mixes"},
          "title": {"text": "(A)", "anchor": "start", "frame": "bounds", "dx": -24, "offset": 1, "font": "Liberation Serif", "fontSize": 14, "fontWeight": "normal", "color": "#000000"},
          "width": 130,
          "height": 240,
          "view": {"stroke": null, "fill": null},
          "mark": {"type": "text", "align": "center", "baseline": "middle", "font": "Liberation Serif", "fontSize": 15, "fontWeight": "bold", "color": "#000000"},
          "encoding": {
            "y": {"field": "mix", "type": "nominal", "sort": null, "bandPosition": 0.5, "scale": {"type": "band", "paddingInner": 0, "paddingOuter": 0}, "axis": null},
            "text": {"field": "mix"}
          }
        },
        {
          "vconcat": [
            {
              "data": {"name": "droplets"},
              "transform": [{"filter": "datum.m === 'A'"}],
              "facet": {
                "column": {"field": "s", "type": "nominal", "title": null, "sort": ["E.co", "S.au", "P.ae", "C.al", "NTC"], "header": {"labelPadding": 9}}
              },
              "spacing": 0,
              "spec": {
                "width": 106,
                "height": 114,
                "layer": [
                  {
                    "transform": [{"filter": "datum.y2 != null && datum.c !== 'core'"}],
                    "mark": {"type": "area"},
                    "encoding": {
                      "x": {"field": "x", "type": "quantitative", "scale": {"domain": [0, 100], "nice": false, "zero": false}, "axis": {"values": [50], "labels": false, "ticks": false, "domain": false, "title": null, "grid": true, "gridDash": [2, 2], "gridColor": "#bdbdbd"}},
                      "y": {"field": "y", "type": "quantitative", "scale": {"domain": [0, 4000], "nice": false}, "axis": {"values": [0, 500, 1000, 1500, 2000, 2500, 3000, 3500, 4000], "labelOverlap": false, "format": "d", "title": "Amplitude"}},
                      "y2": {"field": "y2"},
                      "color": {"field": "c", "type": "nominal", "scale": {"domain": ["pos", "neg", "core", "rain"], "range": ["#0f62a6", "#7d7d7d", "#555555", "#9a9a9a"]}, "legend": null}
                    }
                  },
                  {
                    "transform": [{"filter": "datum.y2 != null && datum.c === 'core'"}],
                    "mark": {"type": "area"},
                    "encoding": {
                      "x": {"field": "x", "type": "quantitative", "scale": {"domain": [0, 100], "nice": false, "zero": false}, "axis": {"values": [50], "labels": false, "ticks": false, "domain": false, "title": null, "grid": true, "gridDash": [2, 2], "gridColor": "#bdbdbd"}},
                      "y": {"field": "y", "type": "quantitative", "scale": {"domain": [0, 4000], "nice": false}, "axis": {"values": [0, 500, 1000, 1500, 2000, 2500, 3000, 3500, 4000], "labelOverlap": false, "format": "d", "title": "Amplitude"}},
                      "y2": {"field": "y2"},
                      "color": {"field": "c", "type": "nominal", "legend": null}
                    }
                  },
                  {
                    "transform": [{"filter": "datum.y2 == null && datum.c !== 'thr'"}],
                    "mark": {"type": "circle", "size": 7, "opacity": 1},
                    "encoding": {
                      "x": {"field": "x", "type": "quantitative", "scale": {"domain": [0, 100], "nice": false, "zero": false}, "axis": {"values": [50], "labels": false, "ticks": false, "domain": false, "title": null, "grid": true, "gridDash": [2, 2], "gridColor": "#bdbdbd"}},
                      "y": {"field": "y", "type": "quantitative", "scale": {"domain": [0, 4000], "nice": false}, "axis": {"values": [0, 500, 1000, 1500, 2000, 2500, 3000, 3500, 4000], "labelOverlap": false, "format": "d", "title": "Amplitude"}},
                      "color": {"field": "c", "type": "nominal", "legend": null}
                    }
                  },
                  {
                    "transform": [{"filter": "datum.c === 'thr'"}],
                    "mark": {"type": "rule", "color": "#ff00ff", "strokeWidth": 2},
                    "encoding": {"y": {"field": "y", "type": "quantitative", "scale": {"domain": [0, 4000], "nice": false}, "axis": {"values": [0, 500, 1000, 1500, 2000, 2500, 3000, 3500, 4000], "labelOverlap": false, "format": "d", "title": "Amplitude"}}}
                  }
                ]
              }
            },
            {
              "data": {"name": "droplets"},
              "transform": [{"filter": "datum.m === 'B'"}],
              "facet": {
                "column": {"field": "s", "type": "nominal", "title": null, "sort": ["E.co", "S.au", "P.ae", "C.al", "NTC"], "header": {"labels": false}}
              },
              "spacing": 0,
              "spec": {
                "width": 106,
                "height": 115,
                "layer": [
                  {
                    "transform": [{"filter": "datum.y2 != null && datum.c !== 'core'"}],
                    "mark": {"type": "area"},
                    "encoding": {
                      "x": {"field": "x", "type": "quantitative", "scale": {"domain": [0, 100], "nice": false, "zero": false}, "axis": {"values": [50], "labels": false, "ticks": false, "domain": false, "title": null, "grid": true, "gridDash": [2, 2], "gridColor": "#bdbdbd"}},
                      "y": {"field": "y", "type": "quantitative", "scale": {"domain": [0, 8000], "nice": false}, "axis": {"values": [0, 1000, 2000, 3000, 4000, 5000, 6000, 7000, 8000], "labelOverlap": false, "format": "d", "title": "Amplitude"}},
                      "y2": {"field": "y2"},
                      "color": {"field": "c", "type": "nominal", "scale": {"domain": ["pos", "neg", "core", "rain"], "range": ["#0f62a6", "#7d7d7d", "#555555", "#9a9a9a"]}, "legend": null}
                    }
                  },
                  {
                    "transform": [{"filter": "datum.y2 != null && datum.c === 'core'"}],
                    "mark": {"type": "area"},
                    "encoding": {
                      "x": {"field": "x", "type": "quantitative", "scale": {"domain": [0, 100], "nice": false, "zero": false}, "axis": {"values": [50], "labels": false, "ticks": false, "domain": false, "title": null, "grid": true, "gridDash": [2, 2], "gridColor": "#bdbdbd"}},
                      "y": {"field": "y", "type": "quantitative", "scale": {"domain": [0, 8000], "nice": false}, "axis": {"values": [0, 1000, 2000, 3000, 4000, 5000, 6000, 7000, 8000], "labelOverlap": false, "format": "d", "title": "Amplitude"}},
                      "y2": {"field": "y2"},
                      "color": {"field": "c", "type": "nominal", "legend": null}
                    }
                  },
                  {
                    "transform": [{"filter": "datum.y2 == null && datum.c !== 'thr'"}],
                    "mark": {"type": "circle", "size": 7, "opacity": 1},
                    "encoding": {
                      "x": {"field": "x", "type": "quantitative", "scale": {"domain": [0, 100], "nice": false, "zero": false}, "axis": {"values": [50], "labels": false, "ticks": false, "domain": false, "title": null, "grid": true, "gridDash": [2, 2], "gridColor": "#bdbdbd"}},
                      "y": {"field": "y", "type": "quantitative", "scale": {"domain": [0, 8000], "nice": false}, "axis": {"values": [0, 1000, 2000, 3000, 4000, 5000, 6000, 7000, 8000], "labelOverlap": false, "format": "d", "title": "Amplitude"}},
                      "color": {"field": "c", "type": "nominal", "legend": null}
                    }
                  },
                  {
                    "transform": [{"filter": "datum.c === 'thr'"}],
                    "mark": {"type": "rule", "color": "#ff00ff", "strokeWidth": 2},
                    "encoding": {"y": {"field": "y", "type": "quantitative", "scale": {"domain": [0, 8000], "nice": false}, "axis": {"values": [0, 1000, 2000, 3000, 4000, 5000, 6000, 7000, 8000], "labelOverlap": false, "format": "d", "title": "Amplitude"}}}
                  }
                ]
              }
            }
          ],
          "spacing": 5,
          "resolve": {"scale": {"x": "independent", "y": "independent"}}
        }
      ],
      "spacing": 2,
      "resolve": {"scale": {"x": "independent", "y": "independent"}}
    },
    {
      "title": {"text": "(B)", "anchor": "start", "frame": "bounds", "dx": -24, "offset": 3, "font": "Liberation Serif", "fontSize": 14, "fontWeight": "normal", "color": "#000000"},
      "width": 752,
      "height": 120,
      "view": {"stroke": null, "fill": null},
      "data": {"name": "counts"},
      "layer": [
        {
          "data": {"name": "columns"},
          "transform": [{"filter": "datum.col === 'Sample'"}],
          "mark": {"type": "rule", "color": "#333333", "strokeWidth": 1.5},
          "encoding": {"y": {"field": "col", "type": "nominal", "bandPosition": 0, "scale": {"type": "band", "domain": ["Sample", "E. coli", "S. aureus", "P. aeruginosa", "C. albicans", "NTC"], "paddingInner": 0, "paddingOuter": 0}, "axis": null}}
        },
        {
          "transform": [{"filter": "datum.sample === 'E. coli'"}],
          "mark": {"type": "rule", "color": "#666666", "strokeWidth": 1},
          "encoding": {"y": {"field": "sample", "type": "nominal", "bandPosition": 0}}
        },
        {
          "transform": [{"filter": "datum.sample === 'NTC'"}],
          "mark": {"type": "rule", "color": "#333333", "strokeWidth": 1.5},
          "encoding": {"y": {"field": "sample", "type": "nominal", "bandPosition": 1}}
        },
        {
          "data": {"name": "columns"},
          "transform": [{"filter": "datum.col === 'Sample'"}],
          "mark": {"type": "text", "align": "left", "dx": -70, "font": "Lato", "fontSize": 12, "fontWeight": "bold", "color": "#222222"},
          "encoding": {
            "x": {"field": "col", "type": "nominal", "scale": {"type": "point", "domain": ["Sample", "Master mix A", "Master mix B"], "range": [73, 595], "padding": 0}, "axis": null},
            "y": {"datum": "Sample", "type": "nominal", "bandPosition": 0.5},
            "text": {"field": "col"}
          }
        },
        {
          "data": {"name": "columns"},
          "transform": [{"filter": "datum.col !== 'Sample'"}],
          "mark": {"type": "text", "align": "center", "font": "Lato", "fontSize": 12, "fontWeight": "bold", "color": "#222222"},
          "encoding": {
            "x": {"field": "col", "type": "nominal"},
            "y": {"datum": "Sample", "type": "nominal", "bandPosition": 0.5},
            "text": {"field": "col"}
          }
        },
        {
          "transform": [{"filter": "datum.sample !== 'NTC'"}],
          "mark": {"type": "text", "align": "left", "dx": -70, "font": "Lato", "fontSize": 12, "fontWeight": "bold", "fontStyle": "italic", "color": "#222222"},
          "encoding": {
            "x": {"datum": "Sample", "type": "nominal"},
            "y": {"field": "sample", "type": "nominal", "bandPosition": 0.5},
            "text": {"field": "sample"}
          }
        },
        {
          "transform": [{"filter": "datum.sample === 'NTC'"}],
          "mark": {"type": "text", "align": "left", "dx": -70, "font": "Lato", "fontSize": 12, "fontWeight": "bold", "color": "#222222"},
          "encoding": {
            "x": {"datum": "Sample", "type": "nominal"},
            "y": {"field": "sample", "type": "nominal", "bandPosition": 0.5},
            "text": {"field": "sample"}
          }
        },
        {
          "transform": [{"fold": ["Master mix A", "Master mix B"], "as": ["mix", "copies"]}],
          "mark": {"type": "text", "align": "center", "font": "Lato", "fontSize": 12, "color": "#222222"},
          "encoding": {
            "x": {"field": "mix", "type": "nominal"},
            "y": {"field": "sample", "type": "nominal", "bandPosition": 0.5},
            "text": {"field": "copies", "type": "nominal"}
          }
        }
      ]
    }
  ],
  "spacing": 4,
  "resolve": {"scale": {"x": "independent", "y": "independent"}},
  "config": {
    "view": {"stroke": "#4a4a4a", "strokeWidth": 2, "fill": "#f4f4f4"},
    "axisY": {"labelFont": "Open Sans", "labelFontSize": 9, "labelColor": "#555555", "labelOverlap": false, "tickColor": "#c4c4c4", "tickSize": 13, "labelPadding": 3, "domain": false, "gridColor": "#cdcdcd", "titleFont": "Open Sans", "titleFontSize": 9, "titleFontWeight": "normal", "titleColor": "#555555", "titlePadding": 6},
    "header": {"labelFont": "Liberation Serif", "labelFontSize": 15, "labelFontWeight": "bold", "labelColor": "#000000"}
  }
}
